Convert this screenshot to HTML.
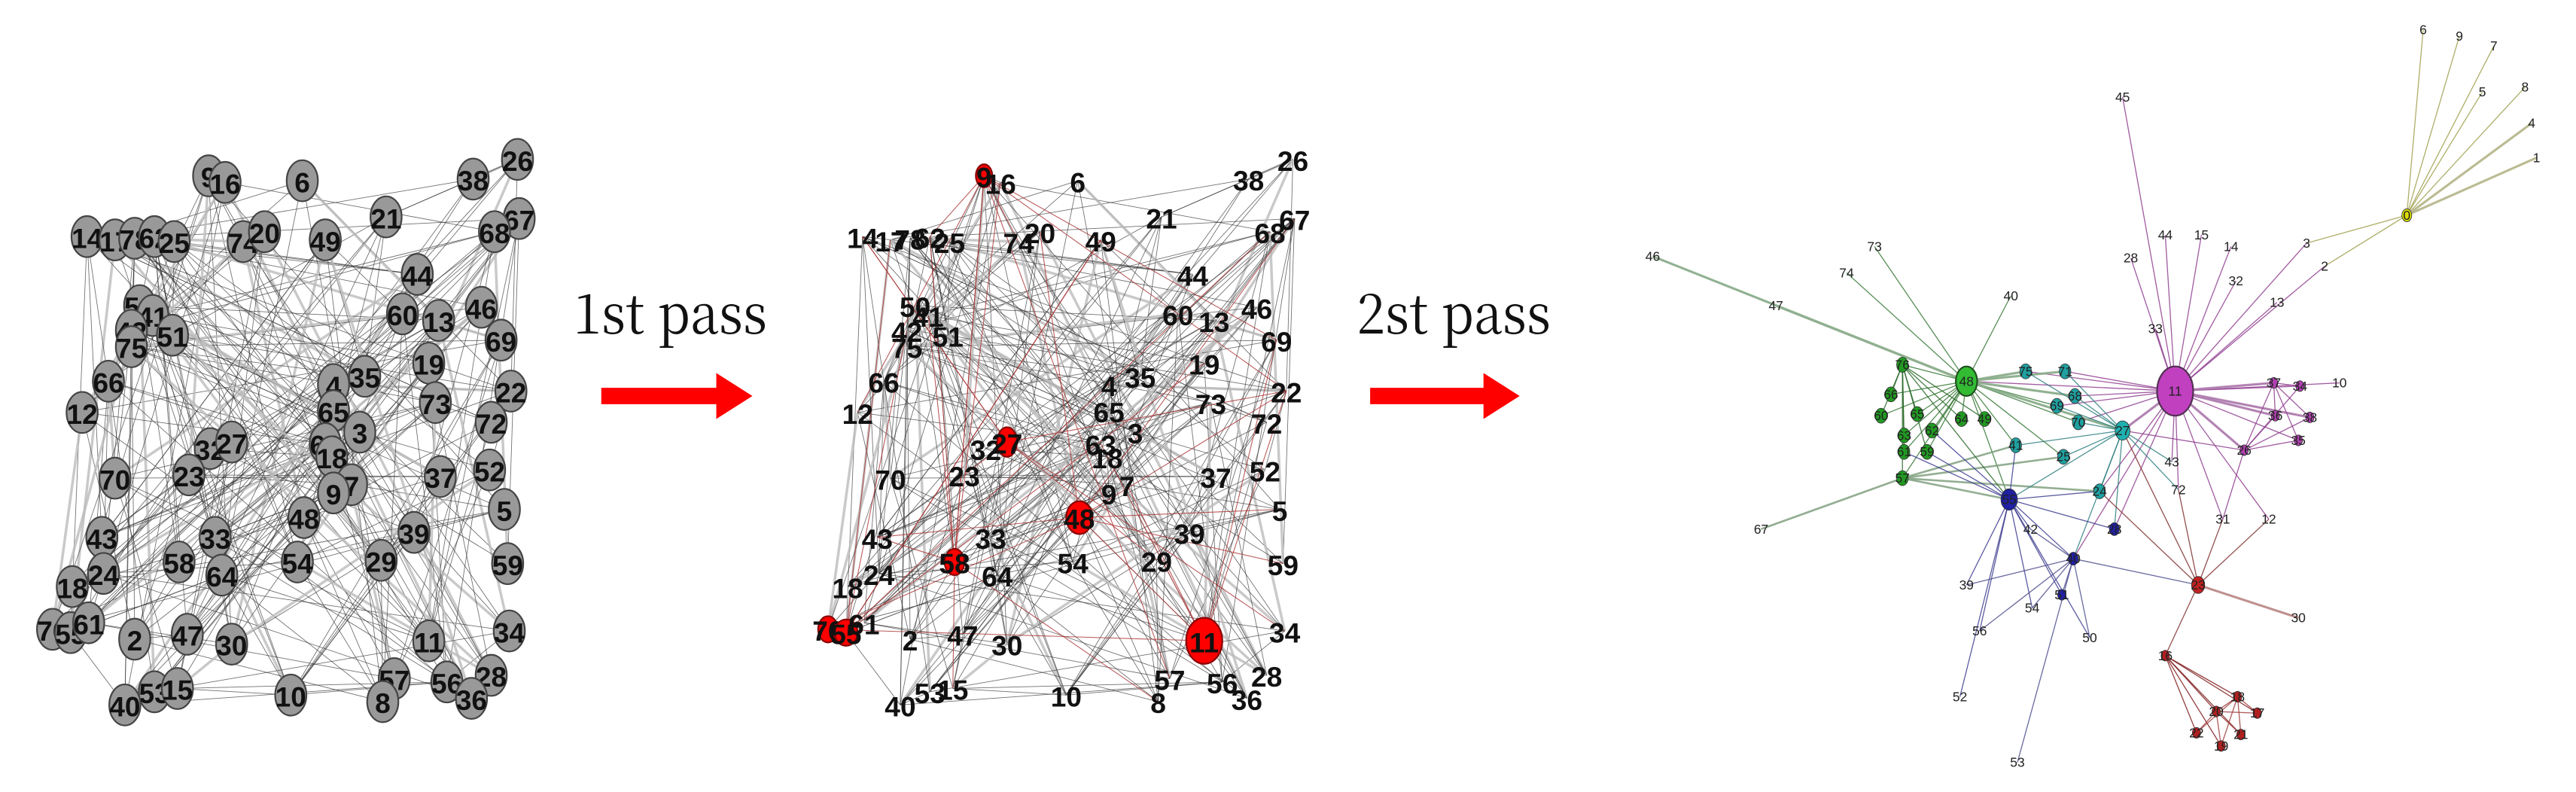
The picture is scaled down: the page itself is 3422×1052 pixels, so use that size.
<!DOCTYPE html>
<html><head><meta charset="utf-8"><style>
html,body{margin:0;padding:0;background:#fff;}
svg{display:block}
.p1 text{font-family:"Liberation Sans Narrow","Liberation Sans",sans-serif;font-weight:bold;font-size:17px;fill:#111;text-anchor:middle;dominant-baseline:central}
.p3 text{font-family:"Liberation Sans Narrow","Liberation Sans",sans-serif;font-size:8px;fill:#222;text-anchor:middle;dominant-baseline:central}
.lbl{font-family:"Noto Serif CJK JP","Liberation Serif",serif;font-size:25px;fill:#111}
</style></head><body>
<svg id="s" width="3422" height="1052" viewBox="0 0 1568 482" preserveAspectRatio="none" xmlns="http://www.w3.org/2000/svg">
<rect width="1568" height="482" fill="#fff"/>
<g id="e1"></g><g id="e3"></g>
<g id="n1" class="p1"></g><g id="n3" class="p3"></g>
<g transform="translate(349,203) scale(1,1.35)"><text class="lbl" x="0" y="0" textLength="118" lengthAdjust="spacingAndGlyphs">1st pass</text></g>
<g transform="translate(826,203) scale(1,1.35)"><text class="lbl" x="0" y="0" textLength="118" lengthAdjust="spacingAndGlyphs">2st pass</text></g>
<polygon points="366,236 436,236 436,227 458,241 436,255 436,246 366,246" fill="#f00"/>
<polygon points="834,236 903,236 903,227 925,241 903,255 903,246 834,246" fill="#f00"/>
</svg>
<script>
var NS="http://www.w3.org/2000/svg";
function el(p,t,a,txt){var e=document.createElementNS(NS,t);for(var k in a)e.setAttribute(k,a[k]);if(txt!==undefined)e.textContent=txt;p.appendChild(e);return e;}
var s=1234567;function rnd(){s=(s*16807)%2147483647;return s/2147483647;}
var P1=[["9",127,107],["16",137,111],["6",184,110],["38",288,109],["26",315,97],["21",235,132],["67",316,133],["68",301,141],["14",53,144],["17",70,146],["78",82,145],["62",94,144],["25",106,147],["74",148,147],["20",161,141],["49",198,146],["44",254,167],["60",245,191],["13",267,195],["46",293,187],["69",305,207],["50",85,186],["41",93,192],["42",80,201],["51",105,204],["75",80,211],["19",261,221],["4",203,234],["35",222,229],["66",66,232],["22",311,238],["12",50,251],["65",203,250],["73",265,245],["72",299,257],["3",219,263],["63",198,270],["18",202,278],["32",128,273],["27",141,269],["23",115,289],["70",70,291],["37",268,290],["52",298,286],["7",214,295],["9",203,300],["5",307,310],["48",185,315],["33",131,327],["39",252,324],["43",62,327],["24",63,349],["58",109,342],["64",135,350],["54",181,342],["29",232,341],["59",309,343],["18",44,357],["76",32,383],["55",43,385],["61",54,379],["2",82,389],["47",114,386],["30",141,392],["11",261,390],["34",310,384],["57",240,413],["56",272,415],["28",299,411],["36",287,425],["53",94,421],["15",108,419],["40",76,429],["10",177,423],["8",233,427]];
var e1=document.getElementById("e1"),n1=document.getElementById("n1");
var E=[];
for(var i=0;i<P1.length;i++){for(var k=0;k<4;k++){var j=Math.floor(rnd()*P1.length);if(j!=i)E.push([i,j,rnd()<0.12]);}}
var hubs=[0,39,47,52,59,64];
E.forEach(function(q){var a=P1[q[0]],b=P1[q[1]];
 [0,472].forEach(function(o){el(e1,"line",{x1:a[1]+o,y1:a[2],x2:b[1]+o,y2:b[2],stroke:q[2]?"#bbb":"#333","stroke-width":q[2]?1.6:0.4,"stroke-opacity":q[2]?0.8:0.7});});});
for(var h=0;h<40;h++){var a=P1[hubs[h%hubs.length]],b=P1[Math.floor(rnd()*P1.length)];el(e1,"line",{x1:a[1]+472,y1:a[2],x2:b[1]+472,y2:b[2],stroke:"#a33","stroke-width":0.5,"stroke-opacity":0.8});}
var red={"0":[5,7],"39":[6,9],"47":[8,10],"52":[6,8],"59":[7,8],"58":[6,8],"64":[11,14]};
P1.forEach(function(p,i){
 el(n1,"ellipse",{cx:p[1],cy:p[2],rx:9.5,ry:12.5,fill:"#999",stroke:"#444","stroke-width":1});
 el(n1,"text",{x:p[1],y:p[2]+1},p[0]);
 if(red[i])el(n1,"ellipse",{cx:p[1]+472,cy:p[2],rx:red[i][0],ry:red[i][1],fill:"#f00",stroke:"#800","stroke-width":1});
 el(n1,"text",{x:p[1]+472,y:p[2]+1},p[0]);
});
var N={};
function add(n,x,y,c,r){N[n]=[x,y,c,r||0];}
[["6",1475,18],["9",1497,22],["7",1518,28],["5",1511,56],["8",1537,53],["4",1541,75],["1",1544,96],["3",1404,148],["2",1415,162],["13",1386,184],["32",1361,171],["14",1358,150],["15",1340,143],["44",1318,143],["28",1297,157],["45",1292,59],["33",1312,200],["40",1224,180],["73",1141,150],["74",1124,166],["46",1006,156],["47",1081,186],["10",1424,233],["43",1322,281],["72",1326,298],["31",1353,316],["12",1381,316],["30",1399,376],["50",1272,388],["39",1197,356],["56",1205,384],["52",1193,424],["53",1228,464],["67",1072,322],["42",1236,322]].forEach(function(a){add(a[0],a[1],a[2],null);});
add("0",1465,131,"#dddd00",3);add("11",1324,238,"#c040c0",11);add("48",1197,232,"#33bb33",6.5);
add("55",1223,304,"#2020a0",5);add("27",1292,262,"#20b0b0",4.5);add("23",1338,356,"#c02020",4);
["76:1158,222","66:1151,240","65:1167,252","60:1145,253","64:1194,255","49:1208,255","63:1159,265","62:1176,262","61:1159,275","59:1173,275","57:1158,291"].forEach(function(t){var a=t.split(/[:,]/);add(a[0],+a[1],+a[2],"#229922",3.5);});
["75:1233,226","71:1257,226","68:1263,241","69:1252,247","70:1265,257","41:1227,271","25:1256,278","24:1278,299"].forEach(function(t){var a=t.split(/[:,]/);add(a[0],+a[1],+a[2],"#20a0a0",3.5);});
["37:1384,233","34:1400,235","36:1385,253","38:1406,254","35:1399,268","26:1366,274"].forEach(function(t){var a=t.split(/[:,]/);add(a[0],+a[1],+a[2],"#b040b0",2.5);});
add("28b",1287,322,"#2020a0",3);add("40b",1262,340,"#2020a0",3);add("51",1255,362,"#2020a0",2.5);add("54",1237,370,null);
["16:1318,399","18:1362,424","20:1349,433","17:1374,434","22:1337,446","21:1364,447","19:1352,454"].forEach(function(t){var a=t.split(/[:,]/);add(a[0],+a[1],+a[2],"#b02020",2.5);});
var e3=document.getElementById("e3"),n3=document.getElementById("n3");
function L(h,list,c,w){list.split(" ").forEach(function(n){var a=N[h],b=N[n];if(!a||!b)return;el(e3,"line",{x1:a[0],y1:a[1],x2:b[0],y2:b[1],stroke:c,"stroke-width":w||0.6,"stroke-opacity":0.85});});}
L("0","6 9 7 5 8 4 1 3 2","#a0a050");L("0","4 1","#b8b890",1.5);
L("11","45 44 15 14 32 13 3 2 33 28 37 34 10 36 38 35 26 43 72 27 70 68 71 75 48 69 12 31 40b 28b 24","#904090");
L("11","37 36 38 26 27","#b080b0",1.5);
L("48","46 47 73 74 76 66 65 60 63 64 49 62 61 59 57 75 71 69 41 55 40 68 70 27 25","#3a7a3a");
L("48","47 46 75 71 68 27","#90b090",1.5);
L("57","67 55 41 25 24","#80a080",1.2);L("76","66 60 65 63 61 59 57 55 64 49","#2a6a2a");
L("27","25 24 41 70 68 69 71 75 55 28b 40b 43 72","#308080");
L("55","42 39 56 52 54 51 28b 24 41 59 40b 50 62 61","#404090");
L("40b","53 50 51 54 23 42 39 56","#505090");
L("23","31 12 30 16 72 24 27","#803030");L("23","30","#c09090",1.5);
L("16","18 20 17 22 21 19","#802020");L("18","20 17 22 21 19","#a04040");L("20","22 21 19 17","#a04040");
L("26","35 36 37 34 38 31 27","#904090");L("37","34 36 38 35","#904090");
for(var n in N){var a=N[n];if(a[2]){if(n=="11")el(n3,"ellipse",{cx:a[0],cy:a[1],rx:11,ry:15,fill:a[2],stroke:"#503050"});else if(n=="48")el(n3,"ellipse",{cx:a[0],cy:a[1],rx:6.5,ry:9,fill:a[2],stroke:"#205020"});else el(n3,"ellipse",{cx:a[0],cy:a[1],rx:a[3],ry:a[3]*1.3,fill:a[2],stroke:"#333","stroke-width":0.4});}
 var t=el(n3,"text",{x:a[0],y:a[1]},n.replace("b",""));if(n=="11"){t.setAttribute("font-size","11");}}
</script>
</body></html>
